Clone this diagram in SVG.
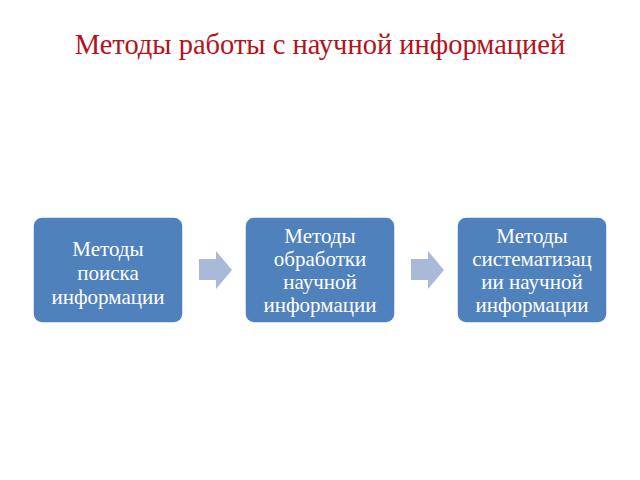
<svg xmlns="http://www.w3.org/2000/svg" width="640" height="480" viewBox="0 0 640 480">
<style>
.title{font-family:"Liberation Serif","Times New Roman",serif;font-size:28.5px;fill:#B5121B;text-anchor:middle}
.box{fill:#4F81BD;stroke:#FFFFFF;stroke-width:1.5}
.lbl{font-family:"Liberation Serif","Times New Roman",serif;font-size:21px;fill:#FFFFFF;text-anchor:middle}
.arr{fill:#A9B9D8}
</style>
<rect width="640" height="480" fill="#FFFFFF"/>
<text class="title" x="320" y="54">Методы работы с научной информацией</text>
<g id="connectors">
<path class="arr" d="M199,259 H216 V251 L232,270 L216,289 V280 H199 Z"/>
<path class="arr" d="M411,259 H428 V251 L444,270 L428,289 V280 H411 Z"/>
</g>
<g id="node1">
<rect class="box" x="33" y="217" width="150" height="106" rx="9"/>
<text class="lbl" x="108" y="256">Методы</text>
<text class="lbl" x="108" y="280">поиска</text>
<text class="lbl" x="108" y="304">информации</text>
</g>
<g id="node2">
<rect class="box" x="245" y="217" width="150" height="106" rx="9"/>
<text class="lbl" x="320" y="243">Методы</text>
<text class="lbl" x="320" y="266">обработки</text>
<text class="lbl" x="320" y="289">научной</text>
<text class="lbl" x="320" y="312">информации</text>
</g>
<g id="node3">
<rect class="box" x="457" y="217" width="150" height="106" rx="9"/>
<text class="lbl" x="532" y="243">Методы</text>
<text class="lbl" x="532" y="266">систематизац</text>
<text class="lbl" x="532" y="289">ии научной</text>
<text class="lbl" x="532" y="312">информации</text>
</g>
</svg>
